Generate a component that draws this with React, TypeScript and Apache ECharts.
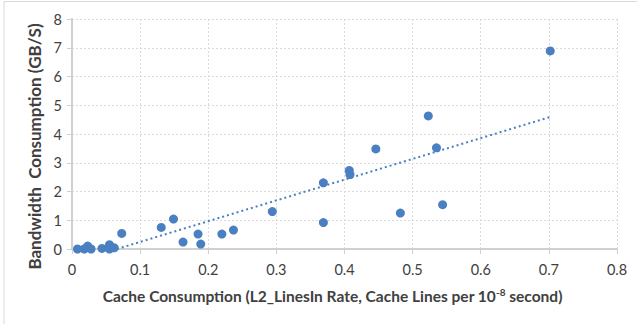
import React, { useEffect, useRef } from "react";
import * as echarts from "echarts";

const xValues = [0.008, 0.018, 0.023, 0.028, 0.044, 0.055, 0.055, 0.062, 0.073, 0.131, 0.149, 0.163, 0.185, 0.189, 0.22, 0.237, 0.294, 0.369, 0.369, 0.407, 0.408, 0.446, 0.482, 0.523, 0.535, 0.544, 0.702];
const yValues = [0.0, 0.0, 0.1, 0.0, 0.02, 0.15, 0.0, 0.04, 0.54, 0.75, 1.04, 0.24, 0.52, 0.17, 0.52, 0.66, 1.3, 0.92, 2.3, 2.73, 2.59, 3.48, 1.25, 4.63, 3.52, 1.54, 6.89];
const trendX = [0.066, 0.703];
const trendY = [0.0, 4.6];
const xTicks = [0, 0.1, 0.2, 0.3, 0.4, 0.5, 0.6, 0.7, 0.8];
const yTicks = [0, 1, 2, 3, 4, 5, 6, 7, 8];

const FONT = "Lato";

export default function App() {
  const ref = useRef<HTMLDivElement>(null);
  useEffect(() => {
    if (!ref.current) return;
    const chart = echarts.init(ref.current, undefined, { renderer: "svg" });
    const points = xValues.map((x, i) => [x, yValues[i]]);
    const trend = trendX.map((x, i) => [x, trendY[i]]);
    chart.setOption({
      animation: false,
      textStyle: { fontFamily: FONT },
      grid: { left: 72, right: 20, top: 19, bottom: 75 },
      graphic: [
        { type: "line", shape: { x1: 4, y1: 1.5, x2: 637, y2: 1.5 }, style: { stroke: "#d9d9d9", lineWidth: 1 } },
        { type: "line", shape: { x1: 4, y1: 1.5, x2: 4, y2: 324 }, style: { stroke: "#d9d9d9", lineWidth: 1 } },
      ],
      xAxis: {
        type: "value",
        min: xTicks[0],
        max: xTicks[xTicks.length - 1],
        interval: 0.1,
        name: "Cache Consumption (L2_LinesIn Rate, Cache Lines per 10{sup|-8} second)",
        nameLocation: "middle",
        nameGap: 38,
        nameTextStyle: {
          fontFamily: FONT,
          fontWeight: "bold",
          fontSize: 15.5,
          color: "#404040",
          padding: [0, 24, 0, 0],
          rich: {
            sup: { fontSize: 10, fontWeight: "bold", color: "#404040", fontFamily: FONT, verticalAlign: "bottom", padding: [0, 0, 8, 0] },
          },
        },
        axisLine: { show: true, lineStyle: { color: "#d0d0d0", width: 2 } },
        axisTick: { show: true, length: 5, lineStyle: { color: "#d0d0d0", width: 1 } },
        axisLabel: { fontFamily: FONT, fontSize: 14.5, color: "#404040", margin: 13, formatter: (v: number) => String(Math.round(v * 10) / 10) },
        splitLine: { show: true, lineStyle: { color: "#d9d9d9", type: [2, 2], width: 1 } },
      },
      yAxis: {
        type: "value",
        min: yTicks[0],
        max: yTicks[yTicks.length - 1],
        interval: 1,
        name: "Bandwidth  Consumption (GB/S)",
        nameLocation: "middle",
        nameGap: 29,
        nameTextStyle: { fontFamily: FONT, fontWeight: "bold", fontSize: 17, color: "#404040", padding: [0, 25, 0, 0] },
        axisLine: { show: true, lineStyle: { color: "#d0d0d0", width: 2 } },
        axisTick: { show: true, length: 5, lineStyle: { color: "#d0d0d0", width: 1 } },
        axisLabel: { fontFamily: FONT, fontSize: 14.5, color: "#404040", margin: 10 },
        splitLine: { show: true, lineStyle: { color: "#d9d9d9", type: [2, 2], width: 1 } },
      },
      series: [
        {
          type: "line",
          data: trend,
          symbol: "none",
          lineStyle: { color: "#4a7fc1", width: 2, type: [2, 3] },
          z: 1,
        },
        {
          type: "scatter",
          data: points,
          symbolSize: 9,
          itemStyle: { color: "#4a7fc1", opacity: 1 },
          z: 2,
        },
      ],
    });
    return () => chart.dispose();
  }, []);
  return <div ref={ref} style={{ width: 637, height: 324, position: "absolute", left: 0, top: 0 }} />;
}
